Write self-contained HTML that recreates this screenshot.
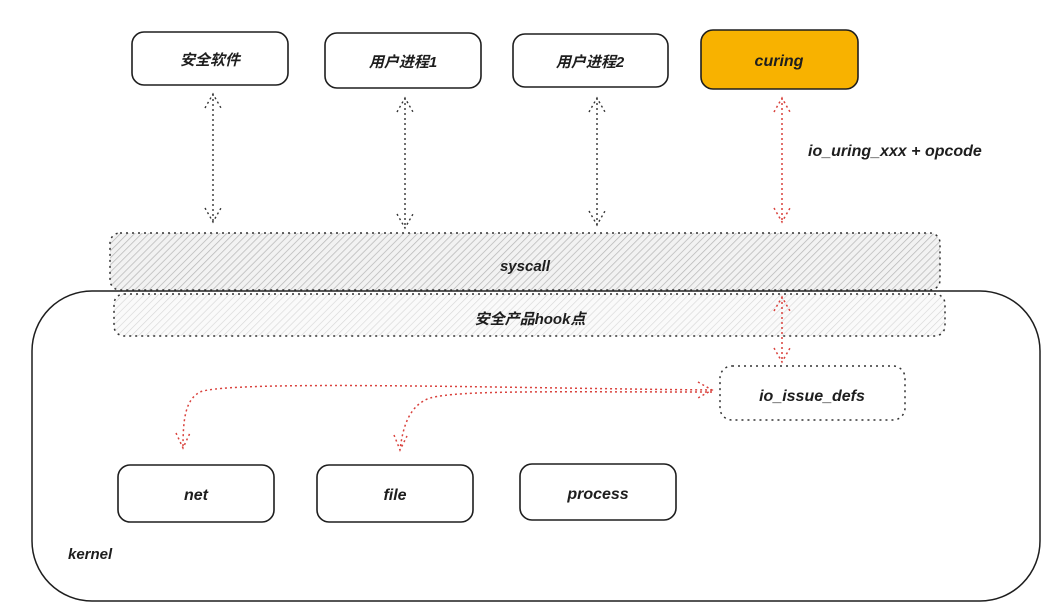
<!DOCTYPE html>
<html><head><meta charset="utf-8"><style>
html,body{margin:0;padding:0;background:#fff;}
svg{display:block}
text{font-family:"Liberation Sans","Noto Sans CJK SC",sans-serif;font-style:italic;font-weight:bold;fill:#1e1e1e;}
</style></head><body>
<svg width="1050" height="616" viewBox="0 0 1050 616" xmlns="http://www.w3.org/2000/svg">
<defs>
<pattern id="h1" width="5" height="5" patternUnits="userSpaceOnUse" patternTransform="rotate(45)">
<rect width="5" height="5" fill="#f2f2f2"/><line x1="0" y1="0" x2="0" y2="5" stroke="#b5b5b5" stroke-width="1.4"/></pattern>
<pattern id="h2" width="5" height="5" patternUnits="userSpaceOnUse" patternTransform="rotate(45)">
<rect width="5" height="5" fill="#fafafa"/><line x1="0" y1="0" x2="0" y2="5" stroke="#d6d6d6" stroke-width="1.2"/></pattern>
</defs>
<!-- kernel -->
<rect x="32" y="291" width="1008" height="310" rx="60" fill="none" stroke="#1e1e1e" stroke-width="1.5"/>
<!-- syscall -->
<rect x="110" y="233" width="830" height="57" rx="10" fill="url(#h1)" stroke="#333" stroke-width="1.5" stroke-dasharray="2 4"/>
<text x="525" y="271" font-size="15" text-anchor="middle">syscall</text>
<!-- hook -->
<rect x="114" y="294" width="831" height="42" rx="10" fill="url(#h2)" stroke="#333" stroke-width="1.5" stroke-dasharray="2 4"/>
<text x="530" y="324" font-size="15" text-anchor="middle">安全产品hook点</text>
<!-- top boxes -->
<g stroke="#1e1e1e" stroke-width="1.6" fill="#fff">
<rect x="132" y="32" width="156" height="53" rx="12"/>
<rect x="325" y="33" width="156" height="55" rx="12"/>
<rect x="513" y="34" width="155" height="53" rx="12"/>
<rect x="701" y="30" width="157" height="59" rx="12" fill="#f8b200"/>
<rect x="118" y="465" width="156" height="57" rx="12"/>
<rect x="317" y="465" width="156" height="57" rx="12"/>
<rect x="520" y="464" width="156" height="56" rx="12"/>
</g>
<rect x="720" y="366" width="185" height="54" rx="12" fill="none" stroke="#333" stroke-width="1.5" stroke-dasharray="2 4"/>
<text x="210" y="65" font-size="15" text-anchor="middle">安全软件</text>
<text x="403" y="67" font-size="15" text-anchor="middle">用户进程1</text>
<text x="590" y="67" font-size="15" text-anchor="middle">用户进程2</text>
<text x="779" y="66" font-size="16" text-anchor="middle">curing</text>
<text x="196" y="500" font-size="16" text-anchor="middle">net</text>
<text x="395" y="500" font-size="16" text-anchor="middle">file</text>
<text x="598" y="499" font-size="16" text-anchor="middle">process</text>
<text x="812" y="401" font-size="16" text-anchor="middle">io_issue_defs</text>
<text x="68" y="559" font-size="15">kernel</text>
<text x="808" y="156" font-size="16">io_uring_xxx + opcode</text>
<!-- black arrows -->
<g stroke="#333" stroke-width="1.4" stroke-dasharray="2 3" fill="none">
<path d="M213 94 V222 M205 108 L213 94 L221 108 M205 208 L213 222 L221 208"/>
<path d="M405 98 V228 M397 112 L405 98 L413 112 M397 214 L405 228 L413 214"/>
<path d="M597 98 V225 M589 112 L597 98 L605 112 M589 211 L597 225 L605 211"/>
</g>
<g stroke="#d9413c" stroke-width="1.5" stroke-dasharray="2 3" fill="none">
<path d="M782 98 V222 M774 112 L782 98 L790 112 M774 208 L782 222 L790 208"/>
<path d="M782 297 V362 M774 311 L782 297 L790 311 M774 348 L782 362 L790 348"/>
<path d="M712 390 C500 388 230 380 200 392 C185 400 183 420 183 448 M176 433 L183 448 L190 433"/>
<path d="M712 392 C550 392 460 390 430 398 C410 405 403 425 400 450 M394 435 L400 450 L407 436"/>
<path d="M698 382 L712 390 L698 398"/>
</g>
</svg>
</body></html>
